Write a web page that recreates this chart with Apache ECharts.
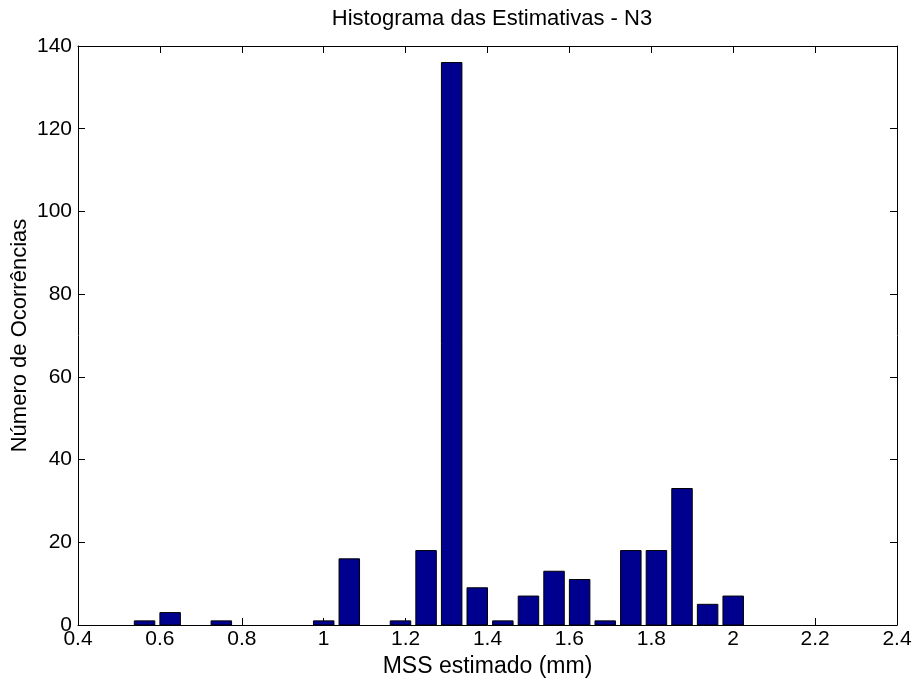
<!DOCTYPE html>
<html>
<head>
<meta charset="utf-8">
<script src="https://cdn.jsdelivr.net/npm/echarts@6/dist/echarts.min.js"></script>
<style>
  html, body { margin: 0; padding: 0; background: #fff; }
  #chart { width: 916px; height: 681px; }
</style>
</head>
<body>
<div id="chart"></div>
<script>
// Histogram bins (centres, mm) and their counts
const binCenters = [0.5625, 0.625, 0.6875, 0.75, 0.8125, 0.875, 0.9375, 1.0,
                    1.0625, 1.125, 1.1875, 1.25, 1.3125, 1.375, 1.4375, 1.5,
                    1.5625, 1.625, 1.6875, 1.75, 1.8125, 1.875, 1.9375, 2.0];
const counts = [1, 3, 0, 1, 0, 0, 0, 1,
                16, 0, 1, 18, 136, 9, 1, 7,
                13, 11, 1, 18, 18, 33, 5, 7];

const titleText = 'Histograma das Estimativas - N3';
const xLabel = 'MSS estimado (mm)';
const yLabel = 'Número de Ocorrências';

const BIN_WIDTH = 0.0625;
const BAR_FRACTION = 0.8;
const FONT = '"Liberation Sans", Arial, Helvetica, sans-serif';

const chart = echarts.init(document.getElementById('chart'), null, { renderer: 'canvas' });

const tickStyle = { show: true, inside: true, length: 7, lineStyle: { color: '#000', width: 1 } };
const lineStyle = { show: true, onZero: false, lineStyle: { color: '#000', width: 1 } };
const labelStyle = { color: '#000', fontFamily: FONT, fontSize: 21 };

chart.setOption({
  backgroundColor: '#fff',
  animation: false,
  title: {
    text: titleText,
    left: 487,
    top: 3,
    textAlign: 'center',
    textStyle: { color: '#000', fontFamily: FONT, fontSize: 22, fontWeight: 'normal' }
  },
  grid: { left: 78, right: 19, top: 46, bottom: 56, containLabel: false, outerBoundsMode: 'none' },
  xAxis: [
    {
      type: 'value', position: 'bottom', min: 0.4, max: 2.4, interval: 0.2,
      axisLine: lineStyle, axisTick: tickStyle,
      axisLabel: Object.assign({ margin: 4 }, labelStyle),
      splitLine: { show: false },
      name: xLabel, nameLocation: 'middle', nameGap: 24,
      nameTextStyle: { color: '#000', fontFamily: FONT, fontSize: 23 }
    },
    {
      type: 'value', position: 'top', min: 0.4, max: 2.4, interval: 0.2,
      axisLine: lineStyle, axisTick: tickStyle,
      axisLabel: { show: false }, splitLine: { show: false }
    }
  ],
  yAxis: [
    {
      type: 'value', position: 'left', min: 0, max: 140, interval: 20,
      axisLine: lineStyle, axisTick: tickStyle,
      axisLabel: Object.assign({ margin: 6 }, labelStyle),
      splitLine: { show: false },
      name: yLabel, nameLocation: 'middle', nameGap: 47, nameMoveOverlap: false,
      nameTextStyle: { color: '#000', fontFamily: FONT, fontSize: 22 }
    },
    {
      type: 'value', position: 'right', min: 0, max: 140, interval: 20,
      axisLine: lineStyle, axisTick: tickStyle,
      axisLabel: { show: false }, splitLine: { show: false }
    }
  ],
  series: [{
    type: 'custom',
    xAxisIndex: 0,
    yAxisIndex: 0,
    encode: { x: 0, y: 1 },
    data: binCenters.map((c, i) => [c, counts[i]]),
    renderItem: function (params, api) {
      const x = api.value(0);
      const y = api.value(1);
      if (!y) return null;
      const half = BAR_FRACTION * BIN_WIDTH / 2;
      const topLeft = api.coord([x - half, y]);
      const bottomRight = api.coord([x + half, 0]);
      return {
        type: 'rect',
        shape: {
          x: topLeft[0],
          y: topLeft[1],
          width: bottomRight[0] - topLeft[0],
          height: bottomRight[1] - topLeft[1]
        },
        style: { fill: '#00008F', stroke: '#000', lineWidth: 1 }
      };
    }
  }]
});
</script>
</body>
</html>
